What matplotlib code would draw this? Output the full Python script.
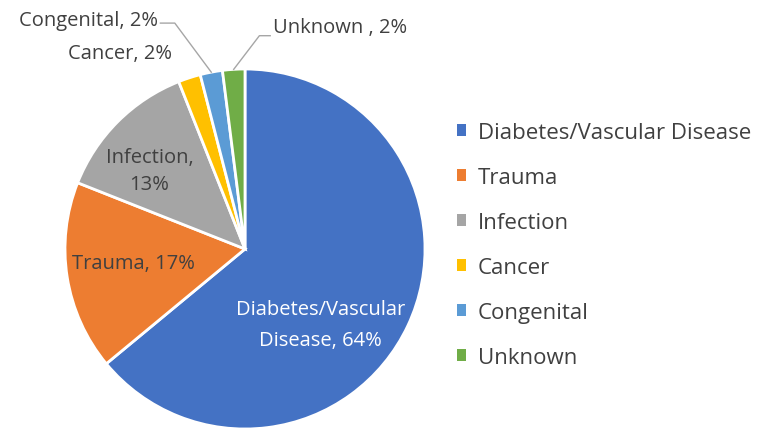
import numpy as np
import matplotlib.pyplot as plt

# data
categories = ["Diabetes/Vascular Disease", "Trauma", "Infection", "Cancer", "Congenital", "Unknown"]
shares = [64, 17, 13, 2, 2, 2]
slice_labels = ["Diabetes/Vascular\nDisease, 64%", "Trauma, 17%", "Infection,\n13%",
                "Cancer, 2%", "Congenital, 2%", "Unknown , 2%"]
colors = ["#4472C4", "#ED7D31", "#A5A5A5", "#FFC000", "#5B9BD5", "#70AD47"]

plt.rcParams['font.family'] = ['Open Sans', 'DejaVu Sans']

W, H = 757, 431
fig = plt.figure(figsize=(W / 100, H / 100), dpi=100)
cx, cy, r = 245, 250, 180
ax = fig.add_axes([(cx - r) / W, (H - cy - r) / H, 2 * r / W, 2 * r / H])

wedges, _ = ax.pie(shares, colors=colors, startangle=90, counterclock=False,
                   radius=1, wedgeprops=dict(edgecolor="white", linewidth=2))
ax.set_xlim(-1, 1)
ax.set_ylim(-1, 1)
ax.set_aspect("equal")
ax.axis("off")

fs = 14.5
txt = "#404040"
# labels inside / near slices
ax.text(0.42, -0.42, slice_labels[0], ha="center", va="center", color="white",
        fontsize=fs, linespacing=1.7)
ax.text(-0.62, -0.08, slice_labels[1], ha="center", va="center", color=txt, fontsize=fs)
ax.text(-0.53, 0.435, slice_labels[2], ha="center", va="center", color=txt,
        fontsize=fs, linespacing=1.45)
ax.text(-0.405, 1.09, slice_labels[3], ha="right", va="center", color=txt, fontsize=fs)
ax.text(-0.485, 1.27, slice_labels[4], ha="right", va="center", color=txt, fontsize=fs)
ax.text(0.155, 1.235, slice_labels[5], ha="left", va="center", color=txt, fontsize=fs)

# leader lines for the small slices
def mid(w):
    a = np.deg2rad((w.theta1 + w.theta2) / 2)
    return np.cos(a), np.sin(a)

mx, my = mid(wedges[4])
ax.plot([-0.47, -0.39, mx], [1.255, 1.255, my], color="#A6A6A6", lw=1, clip_on=False)
mx, my = mid(wedges[5])
ax.plot([0.14, 0.08, mx], [1.185, 1.185, my], color="#A6A6A6", lw=1, clip_on=False)

leg = fig.legend(wedges, categories, loc="upper left", bbox_to_anchor=(457 / W, 1 - 123 / H),
                 frameon=False, fontsize=16, handlelength=0.4, handleheight=0.4,
                 handletextpad=0.55, labelspacing=1.08, borderaxespad=0, borderpad=0)
for t in leg.get_texts():
    t.set_color(txt)
for h in leg.legend_handles:
    h.set_edgecolor("none")

fig.savefig("out.png", dpi=100)
